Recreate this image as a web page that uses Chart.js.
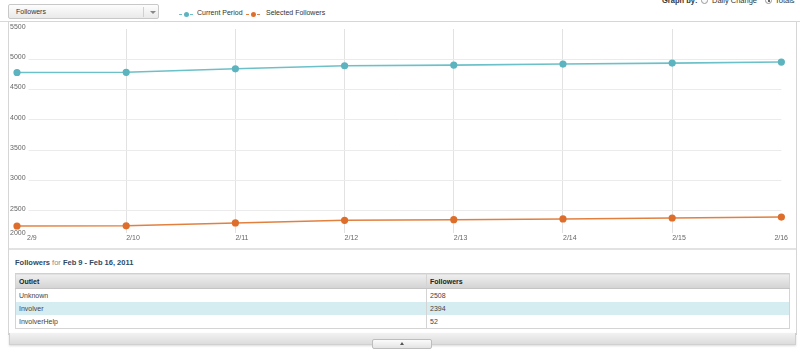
<!DOCTYPE html>
<html><head><meta charset="utf-8">
<script src="https://cdn.jsdelivr.net/npm/chart.js@4/dist/chart.umd.min.js"></script>
<style>
body{margin:0;width:800px;height:356px;overflow:hidden;background:#fff;font-family:"Liberation Sans",Arial,sans-serif;font-size:7px;color:#333;position:relative}
.abs{position:absolute}
#dd{left:8px;top:4px;width:151px;height:15px;border:1px solid #c8c8c8;border-radius:2px;background:linear-gradient(#fdfdfd,#e9e9e9);box-sizing:border-box}
#dd .t{position:absolute;left:7px;top:3px;font-size:7px;color:#333}
#dd .sep{position:absolute;left:134px;top:2px;width:1px;height:10px;background:#d0d0d0}
#dd .arr{position:absolute;left:141px;top:6px;width:0;height:0;border-left:3px solid transparent;border-right:3px solid transparent;border-top:3px solid #888}
.leg{top:9px;font-size:7px;color:#333;white-space:nowrap}
.mk{position:absolute;top:3px;width:14px;height:5px}
.mk i{position:absolute;top:2px;width:3px;height:1px}
.mk b{position:absolute;left:5px;top:0;width:5px;height:5px;border-radius:50%}
#panel{left:9px;top:22px;width:787px;height:227px}
#topline{left:0;top:21px;width:800px;height:1px;background:#d8d8d8}
#frame{left:8px;top:21px;width:789px;height:314px;border:1px solid #d6d6d6;border-bottom:none;box-sizing:border-box}
#sep{left:9px;top:248px;width:787px;height:2px;background:#e2e2e2}
#title{left:15px;top:258px;font-size:7.5px;color:#8a8a8a}
#title b{color:#2d4a66}
table{position:absolute;left:15px;top:273px;width:775px;border-collapse:collapse;font-size:7px;color:#444}
td,th{height:13px;padding:0 0 0 3px;text-align:left;border-left:1px solid #d4d4d4;border-right:1px solid #d4d4d4}
th{background:linear-gradient(#efefef,#d3d3d3);color:#222;font-weight:bold;height:14px;border-top:1px solid #d0d0d0;border-bottom:1px solid #c4c4c4}
tr.alt td{background:#d5ecf1}
tr:last-child td{border-bottom:1px solid #d4d4d4}
#bot{left:9px;top:333px;width:787px;height:12px;background:linear-gradient(#f2f2f2,#dcdcdc);border:1px solid #d0d0d0;border-top:none;box-sizing:border-box;box-shadow:0 1px 2px rgba(0,0,0,0.15)}
#btn{left:372px;top:339px;width:60px;height:10px;border:1px solid #bdbdbd;border-radius:2px;background:linear-gradient(#fbfbfb,#e3e3e3);box-sizing:border-box}
#btn i{position:absolute;left:27px;top:2px;width:0;height:0;border-left:2.5px solid transparent;border-right:2.5px solid transparent;border-bottom:3px solid #555}
#gb{top:-4px;left:662px;font-size:7.5px;color:#333;white-space:nowrap}
.rad{position:absolute;top:-3px;width:7px;height:7px;border:1px solid #999;border-radius:50%;box-sizing:border-box;background:#fafafa}
.rad.on::after{content:"";position:absolute;left:1.5px;top:1.5px;width:2px;height:2px;border-radius:50%;background:#333}
</style></head><body>
<div id="topline" class="abs"></div>
<div id="frame" class="abs"></div>
<div id="dd" class="abs"><span class="t">Followers</span><span class="sep"></span><span class="arr"></span></div>
<div class="abs leg" style="left:179px"><span class="mk" style="left:0"><i style="left:0;background:#6cc0c8"></i><b style="background:#5cb4bf"></b><i style="left:11px;background:#6cc0c8"></i></span><span style="position:absolute;left:18px;top:0">Current Period</span></div>
<div class="abs leg" style="left:246px"><span class="mk" style="left:0"><i style="left:0;background:#e2803f"></i><b style="background:#de6e2c"></b><i style="left:11px;background:#e2803f"></i></span><span style="position:absolute;left:20px;top:0">Selected Followers</span></div>
<div id="gb" class="abs"><b>Graph by:</b></div>
<span class="abs rad" style="left:701px"></span><span class="abs" style="left:712px;top:-4px;font-size:7.5px;color:#333">Daily Change</span>
<span class="abs rad on" style="left:765px"></span><span class="abs" style="left:775px;top:-4px;font-size:7.5px;color:#333">Totals</span>
<div id="panel" class="abs"><canvas id="c" width="787" height="227"></canvas></div>
<div id="sep" class="abs"></div>
<div id="title" class="abs"><b>Followers</b> for <b>Feb 9 - Feb 16, 2011</b></div>
<table id="tbl"></table>
<div id="bot" class="abs"></div>
<div id="btn" class="abs"><i></i></div>
<script>
const categories=['2/9','2/10','2/11','2/12','2/13','2/14','2/15','2/16'];
const currentPeriod=[4782,4785,4843,4893,4904,4921,4937,4954];
const selectedFollowers=[2247,2250,2297,2341,2351,2363,2379,2394];
const yTicks=[2000,2500,3000,3500,4000,4500,5000,5500];
const yMin=2131, yMax=5500; // visible value range of the plot area
const outlets=['Unknown','Involver','InvolverHelp'];
const outletFollowers=[2508,2394,52];
const tableHeader=['Outlet','Followers'];

// table
const tbl=document.getElementById('tbl');
let h='<tr><th style="width:407px">'+tableHeader[0]+'</th><th>'+tableHeader[1]+'</th></tr>';
outlets.forEach((o,i)=>{h+='<tr'+(i===1?' class="alt"':'')+'><td>'+o+'</td><td>'+outletFollowers[i]+'</td></tr>';});
tbl.innerHTML=h;

// nudge edge labels so they do not collide (as in the original widget)
const edgeLabels={
  id:'edgeLabels',
  beforeDraw(chart){
    const xs=chart.scales.x, ys=chart.scales.y;
    const xi=xs.getLabelItems(chart.chartArea);
    if(xi.length){xi[0].options.translation[0]+=10;xi[xi.length-1].options.translation[0]-=7;}
    const yi=ys.getLabelItems(chart.chartArea);
    if(yi.length){yi[0].options.translation[1]-=6;}
  }
};

const FONT={family:'"Liberation Sans", Arial, sans-serif',size:7};
new Chart(document.getElementById('c'),{
  type:'line',
  data:{labels:categories,datasets:[
    {label:'Current Period',data:currentPeriod,borderColor:'#6cc0c8',backgroundColor:'#5cb4bf',pointBackgroundColor:'#5cb4bf',pointBorderColor:'#5cb4bf',borderWidth:1.6,pointRadius:2.8,tension:0,clip:false},
    {label:'Selected Followers',data:selectedFollowers,borderColor:'#e2803f',backgroundColor:'#de6e2c',pointBackgroundColor:'#de6e2c',pointBorderColor:'#de6e2c',borderWidth:1.6,pointRadius:2.8,tension:0,clip:false}
  ]},
  options:{
    responsive:false,animation:false,
    layout:{padding:{left:8,right:9,top:7,bottom:0}},
    plugins:{legend:{display:false},tooltip:{enabled:false}},
    scales:{
      x:{
        afterFit:s=>{s.height=16;},
        grid:{drawTicks:false,color:c=>(c.index===0||c.index===categories.length-1)?'rgba(0,0,0,0)':'#e2e2e2'},
        border:{display:false},
        ticks:{align:'start',padding:1,color:'#666',font:FONT,maxRotation:0,autoSkip:false}
      },
      y:{
        min:yMin,max:yMax,
        afterFit:s=>{s.width=0;},
        afterBuildTicks:s=>{s.ticks=yTicks.map(v=>({value:v}));},
        grid:{drawTicks:false,color:c=>(c.tick&&(c.tick.value===yTicks[0]||c.tick.value===yTicks[yTicks.length-1]))?'rgba(0,0,0,0)':'#ebebeb'},
        border:{display:false},
        ticks:{mirror:true,padding:-7,labelOffset:-2,color:'#666',font:FONT,callback:v=>String(v),showLabelBackdrop:true,
          backdropColor:c=>(c.tick&&c.tick.value===yTicks[0])?'rgba(255,255,255,0)':'#ffffff',
          backdropPadding:{left:1,right:3,top:0,bottom:0}}
      }
    }
  },
  plugins:[edgeLabels]
});
</script>
</body></html>
